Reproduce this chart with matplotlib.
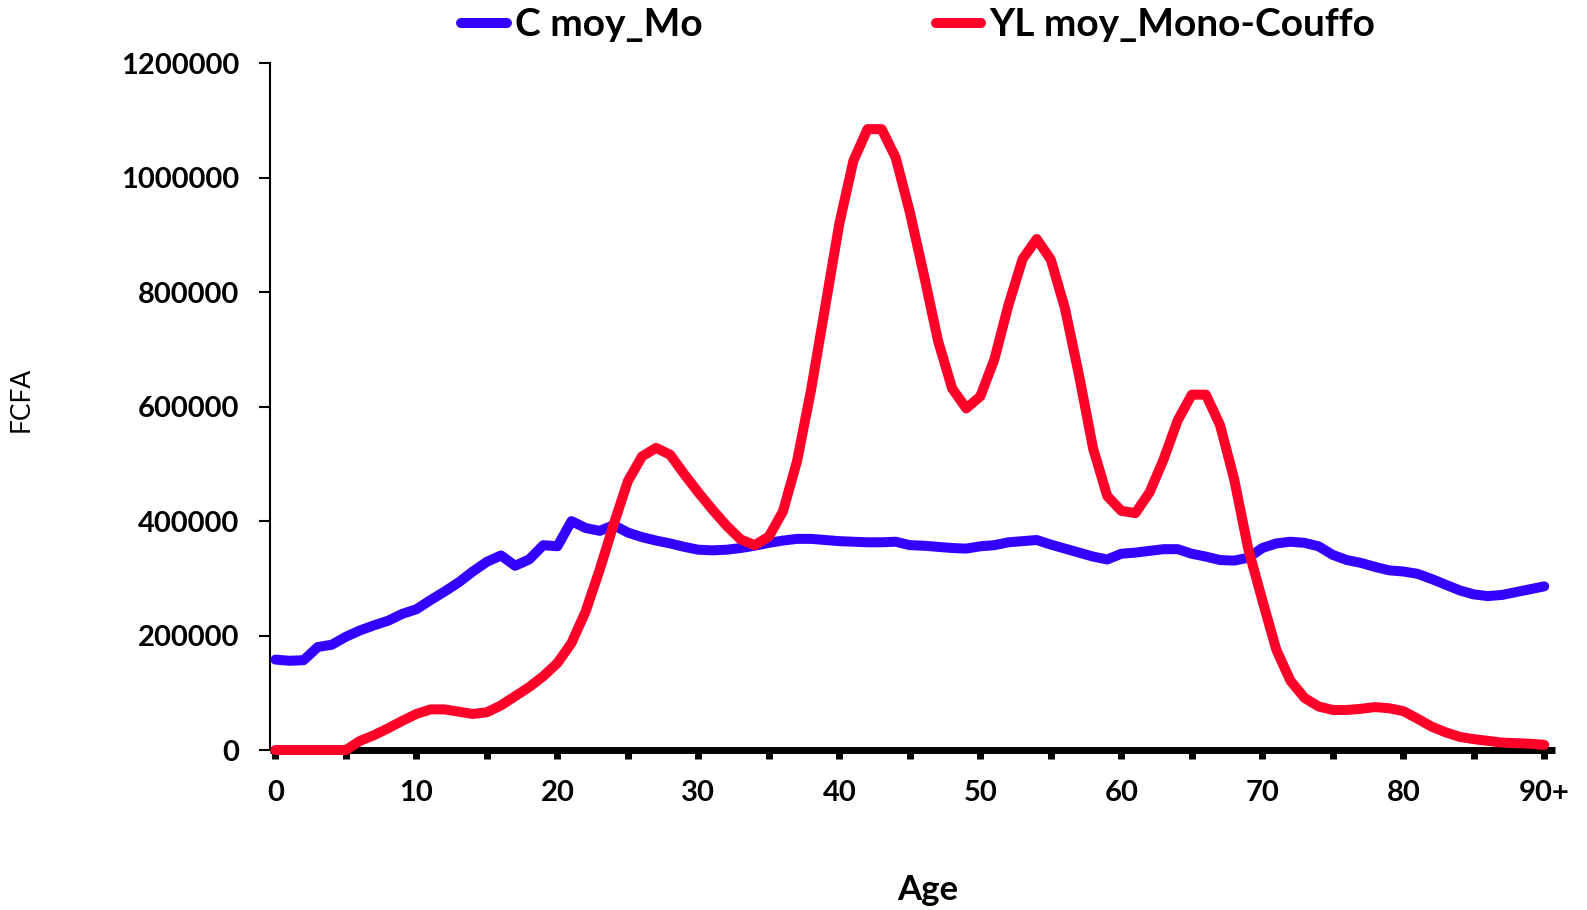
import matplotlib
matplotlib.use("Agg")
import matplotlib.pyplot as plt
import numpy as np

ages = np.arange(0, 91)
tick_pos = np.arange(0, 91, 5)
tick_labels = ["0", "", "10", "", "20", "", "30", "", "40", "", "50", "", "60", "", "70", "", "80", "", "90+"]

# C moy_Mo, FCFA per age
c_moy = [
    158000, 156000, 157000, 180000, 184000, 198000, 209000, 218000, 226000, 238000,
    246000, 262000, 277000, 293000, 312000, 329000, 340000, 322000, 333000, 358000,
    356000, 400000, 388000, 383000, 393000, 380000, 372000, 366000, 361000, 355000,
    350000, 349000, 350000, 353000, 357000, 362000, 366000, 369000, 369000, 367000,
    365000, 364000, 363000, 363000, 364000, 358000, 357000, 355000, 353000, 352000,
    356000, 358000, 363000, 365000, 367000, 359000, 352000, 345000, 338000, 333000,
    343000, 345000, 348000, 351000, 351000, 343000, 338000, 332000, 331000, 336000,
    353000, 361000, 364000, 362000, 356000, 341000, 332000, 327000, 320000, 314000,
    312000, 308000, 299000, 289000, 279000, 272000, 269000, 271000, 276000, 281000,
    286000,
]

# YL moy_Mono-Couffo, FCFA per age
yl_moy = [
    0, 0, 0, 0, 0, 0, 16000, 26000, 38000, 51000,
    63000, 71000, 71000, 67000, 63000, 66000, 78000, 94000, 110000, 129000,
    152000, 187000, 242000, 315000, 395000, 470000, 513000, 528000, 516000, 482000,
    450000, 420000, 392000, 368000, 358000, 373000, 417000, 505000, 630000, 775000,
    920000, 1030000, 1085000, 1085000, 1035000, 940000, 830000, 715000, 632000, 597000,
    618000, 683000, 778000, 858000, 893000, 857000, 772000, 655000, 527000, 444000,
    418000, 414000, 450000, 508000, 576000, 621000, 621000, 568000, 474000, 352000,
    262000, 175000, 121000, 91000, 76000, 70000, 70000, 72000, 75000, 73000,
    68000, 55000, 41000, 31000, 23000, 19000, 16000, 13000, 12000, 11000,
    9000,
]

BLUE = "#3300ff"
RED = "#ff0028"
plt.rcParams["font.family"] = ["Lato", "DejaVu Sans"]

fig = plt.figure(figsize=(15.87, 9.1), dpi=100)
ax = fig.add_axes([0.1701, 0.1758, 0.8097, 0.7546])

ax.plot(ages, c_moy, color=BLUE, lw=7.2, solid_joinstyle="round", solid_capstyle="round",
        label="C moy_Mo", zorder=3, clip_on=False)
ax.plot(ages, yl_moy, color=RED, lw=7.2, solid_joinstyle="round", solid_capstyle="round",
        label="YL moy_Mono-Couffo", zorder=4, clip_on=False)

ax.set_xlim(-0.39, 90.76)
ax.set_ylim(0, 1200000)
ax.set_yticks(np.arange(0, 1200001, 200000))
ax.set_yticklabels([f"{int(v)}" for v in np.arange(0, 1200001, 200000)])
ax.set_xticks(tick_pos)
ax.set_xticklabels(tick_labels)

for s in ["top", "right"]:
    ax.spines[s].set_visible(False)
ax.spines["left"].set_linewidth(1.5)
ax.spines["bottom"].set_linewidth(5)
ax.spines["bottom"].set_capstyle("butt")

ax.tick_params(axis="x", direction="out", length=6.5, width=5, pad=15, labelsize=21)
ax.tick_params(axis="y", direction="out", length=8, width=1.5, pad=14, labelsize=21)
for lab in ax.get_xticklabels() + ax.get_yticklabels():
    lab.set_fontweight("bold")

ax.set_xlabel("Age", fontsize=25, fontweight="bold", va="center")
ax.xaxis.set_label_coords(0.512, -0.204)
ax.set_ylabel("FCFA", fontsize=19, va="center")
ax.yaxis.set_label_coords(-0.194, 0.51)

fig.legend(loc="center", bbox_to_anchor=(918 / 1587, 1 - 25 / 910), ncol=2, frameon=False,
           prop={"size": 28, "weight": "bold"}, handlelength=1.18, handletextpad=0.2,
           columnspacing=6.0, borderpad=0)

fig.savefig("out.png", dpi=100)
